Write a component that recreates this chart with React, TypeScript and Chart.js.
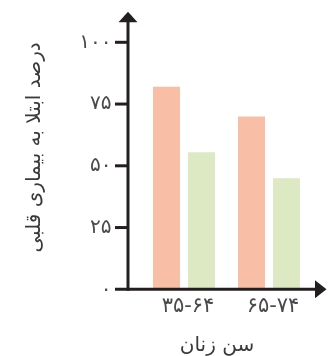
import React, { useEffect, useRef } from 'react';
import { Chart, registerables } from 'chart.js';

Chart.register(...registerables);

const ageGroups = ['۳۵-۶۴', '۶۵-۷۴'];
const seriesOrange = [82, 70];
const seriesGreen = [55.5, 45];
const yTickValues = [0, 25, 50, 75, 100];
const yTickLabels = ['۰', '۲۵', '۵۰', '۷۵', '۱۰۰'];
const yTitle = 'درصد ابتلا به بیماری قلبی';
const xTitle = 'سن زنان';

const AXIS_COLOR = '#231f20';
const FONT = "'DejaVu Sans', sans-serif";

const arrowAxes = {
  id: 'arrowAxes',
  afterDatasetsDraw(chart: any) {
    const { ctx, chartArea, scales } = chart;
    const ys = scales.y;
    const ax = chartArea.left - 13.5;
    const y0 = ys.getPixelForValue(0);
    const yTop = ys.getPixelForValue(100);
    ctx.save();
    ctx.strokeStyle = AXIS_COLOR;
    ctx.fillStyle = AXIS_COLOR;
    ctx.lineWidth = 3;
    ctx.beginPath();
    ctx.moveTo(ax, y0 + 1.5);
    ctx.lineTo(ax, yTop - 21);
    ctx.stroke();
    ctx.beginPath();
    ctx.moveTo(ax - 13, y0);
    ctx.lineTo(chartArea.right + 4, y0);
    ctx.stroke();
    yTickValues.forEach((v) => {
      if (v === 0) return;
      const py = ys.getPixelForValue(v);
      ctx.beginPath();
      ctx.moveTo(ax - 13, py);
      ctx.lineTo(ax, py);
      ctx.stroke();
    });
    ctx.beginPath();
    ctx.moveTo(ax, yTop - 30.5);
    ctx.lineTo(ax - 9.5, yTop - 20);
    ctx.lineTo(ax + 9.5, yTop - 20);
    ctx.closePath();
    ctx.fill();
    const xr = chartArea.right;
    ctx.beginPath();
    ctx.moveTo(xr + 15, y0);
    ctx.lineTo(xr + 3.5, y0 - 9);
    ctx.lineTo(xr + 3.5, y0 + 9);
    ctx.closePath();
    ctx.fill();
    ctx.restore();
  },
};

export default function App() {
  const canvasRef = useRef<HTMLCanvasElement | null>(null);

  useEffect(() => {
    if (!canvasRef.current) return;
    const chart = new Chart(canvasRef.current, {
      type: 'bar',
      data: {
        labels: ageGroups,
        datasets: [
          { data: seriesOrange, backgroundColor: '#f8bea6', borderWidth: 0, categoryPercentage: 0.8235, barPercentage: 0.771 },
          { data: seriesGreen, backgroundColor: '#dde9c3', borderWidth: 0, categoryPercentage: 0.8235, barPercentage: 0.771 },
        ],
      },
      options: {
        animation: false,
        responsive: true,
        maintainAspectRatio: false,
        layout: { padding: { left: 0, right: 23.5, top: 42.3, bottom: 0 } },
        plugins: { legend: { display: false }, tooltip: { enabled: false } },
        scales: {
          x: {
            type: 'category',
            offset: true,
            grid: { display: false, drawTicks: false },
            border: { display: false },
            ticks: { color: '#4a4a4a', font: { family: FONT, size: 21 }, padding: 5, labelOffset: 4, maxRotation: 0 },
            title: { display: true, text: xTitle + '\u00a0\u00a0\u00a0', color: '#3a3a3a', font: { family: FONT, size: 20 }, padding: { top: 0, bottom: -2 } },
            afterFit: (s: any) => {
              s.height = 66.7;
              s.paddingLeft = 0;
              s.paddingRight = 0;
            },
          },
          y: {
            min: 0,
            max: 100,
            grid: { display: false, drawTicks: false },
            border: { display: false },
            afterBuildTicks: (s: any) => { s.ticks = yTickValues.map((v) => ({ value: v })); },
            ticks: { color: '#4a4a4a', font: { family: FONT, size: 20 }, padding: 30, callback: (v: any) => yTickLabels[yTickValues.indexOf(Number(v))] ?? '' },
            title: { display: true, text: yTitle, align: 'end', color: '#3a3a3a', font: { family: FONT, size: 20 }, padding: { top: 23, bottom: 0 } },
            afterFit: (s: any) => {
              s.width = 141.5;
              s.paddingTop = 0;
              s.paddingBottom = 0;
            },
          },
        },
      },
      plugins: [arrowAxes],
    });
    return () => chart.destroy();
  }, []);

  return (
    <div style={{ position: 'fixed', left: 0, top: 0, width: 335, height: 356, background: '#fff' }}>
      <canvas ref={canvasRef} />
    </div>
  );
}
